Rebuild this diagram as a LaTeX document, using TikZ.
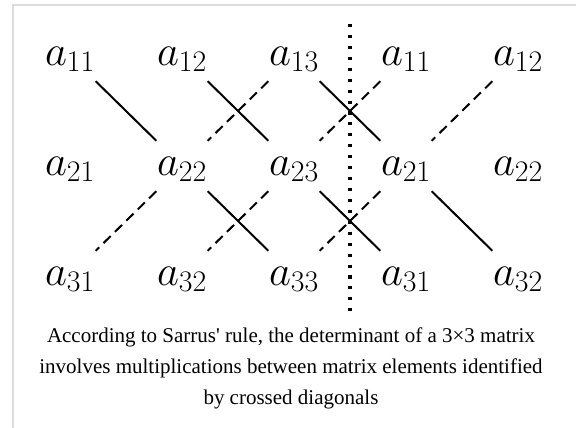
\RequirePackage{fix-cm}
\documentclass[tikz,border=0pt]{standalone}
\usepackage[no-math]{fontspec}
\newfontfamily\capfont{Liberation Serif}
\definecolor{framegray}{HTML}{DCDCDC}
\definecolor{ink}{HTML}{000000}
\newcommand\entrysize{\fontsize{32}{35}\selectfont}
\tikzset{
  entry/.style={anchor=mid,inner sep=0pt,text=ink,font=\entrysize},
  diag/.style={draw=ink,line width=1.5pt,shorten <=27pt,shorten >=27pt},
  plusdiag/.style={diag},
  minusdiag/.style={diag,dash pattern=on 7.5pt off 4.5pt},
  split/.style={draw=ink,line width=2.3pt,dash pattern=on 2.3pt off 5.9pt},
  frame/.style={draw=framegray,line width=1.5pt},
  caption/.style={align=center,inner sep=0pt,text=ink,font=\capfont\fontsize{15.75}{23.25}\selectfont}
}
\begin{document}
\entrysize
\begin{tikzpicture}[x=0.75pt,y=-0.75pt]
  \useasboundingbox (0,0) rectangle (576,428);
  \draw[frame] (12.5,428) |- (576,5.5);

  \node[entry] (p11) at (70,56) {$a_{11}$};
  \node[entry] (p12) at (182,56) {$a_{12}$};
  \node[entry] (p13) at (294,56) {$a_{13}$};
  \node[entry] (p14) at (406,56) {$a_{11}$};
  \node[entry] (p15) at (518,56) {$a_{12}$};

  \node[entry] (p21) at (70,166) {$a_{21}$};
  \node[entry] (p22) at (182,166) {$a_{22}$};
  \node[entry] (p23) at (294,166) {$a_{23}$};
  \node[entry] (p24) at (406,166) {$a_{21}$};
  \node[entry] (p25) at (518,166) {$a_{22}$};

  \node[entry] (p31) at (70,276) {$a_{31}$};
  \node[entry] (p32) at (182,276) {$a_{32}$};
  \node[entry] (p33) at (294,276) {$a_{33}$};
  \node[entry] (p34) at (406,276) {$a_{31}$};
  \node[entry] (p35) at (518,276) {$a_{32}$};

  \coordinate (cuttop) at (350,24);
  \coordinate (cutbot) at (350,313);
  \draw[split] (cuttop)--(cutbot);

  \draw[plusdiag] (p11.mid)--(p22.mid);
  \draw[plusdiag] (p12.mid)--(p23.mid);
  \draw[plusdiag] (p13.mid)--(p24.mid);
  \draw[plusdiag] (p22.mid)--(p33.mid);
  \draw[plusdiag] (p23.mid)--(p34.mid);
  \draw[plusdiag] (p24.mid)--(p35.mid);

  \draw[minusdiag] (p13.mid)--(p22.mid);
  \draw[minusdiag] (p14.mid)--(p23.mid);
  \draw[minusdiag] (p15.mid)--(p24.mid);
  \draw[minusdiag] (p22.mid)--(p31.mid);
  \draw[minusdiag] (p23.mid)--(p32.mid);
  \draw[minusdiag] (p24.mid)--(p33.mid);

  \node[caption,anchor=base] (cap) at (291,404) {According to Sarrus\textquotesingle{} rule, the determinant of a 3×3 matrix\\involves multiplications between matrix elements identified\\by crossed diagonals};
\end{tikzpicture}
\end{document}
